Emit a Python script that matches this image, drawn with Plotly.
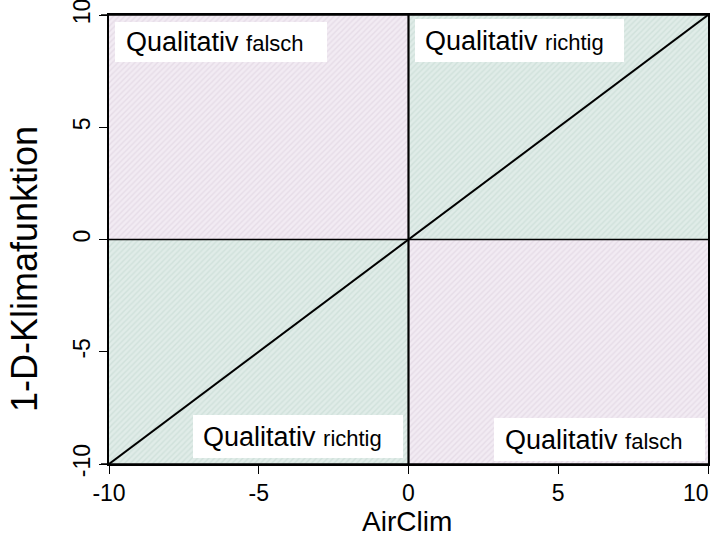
import plotly.graph_objects as go

# ---- data ----
axis_min = -10
axis_max = 10
tick_vals = [-10, -5, 0, 5, 10]
tick_text = ["-10", "-5", "0", "5", "10"]
diag_x = [-10, 10]
diag_y = [-10, 10]
quad_labels = ["Qualitativ falsch", "Qualitativ richtig", "Qualitativ richtig", "Qualitativ falsch"]
quad_names = ["top-left", "top-right", "bottom-left", "bottom-right"]
quad_x = [[-10, 0, 0, -10, -10], [0, 10, 10, 0, 0], [-10, 0, 0, -10, -10], [0, 10, 10, 0, 0]]
quad_y = [[0, 0, 10, 10, 0], [0, 0, 10, 10, 0], [-10, -10, 0, 0, -10], [-10, -10, 0, 0, -10]]
x_title = "AirClim"
y_title = "1-D-Klimafunktion"

PINK_BG, PINK_FG = "#f2ebf3", "#d9cedc"
GREEN_BG, GREEN_FG = "#e0ece8", "#bfd5ce"
quad_colors = [(PINK_BG, PINK_FG), (GREEN_BG, GREEN_FG), (GREEN_BG, GREEN_FG), (PINK_BG, PINK_FG)]

fig = go.Figure()
for qx, qy, (bg, fg), nm in zip(quad_x, quad_y, quad_colors, quad_names):
    fig.add_trace(go.Scatter(
        x=qx, y=qy, mode="none", fill="toself", name=nm,
        fillcolor=bg,
        fillpattern=dict(shape="/", bgcolor=bg, fgcolor=fg, size=4, solidity=0.35),
        hoverinfo="skip", showlegend=False,
    ))

fig.add_trace(go.Scatter(x=diag_x, y=diag_y, mode="lines",
                         line=dict(color="black", width=2), showlegend=False, hoverinfo="skip"))

shapes = [
    dict(type="line", xref="x", yref="y", x0=0, x1=0, y0=axis_min, y1=axis_max,
         line=dict(color="black", width=2.2)),
    dict(type="line", xref="x", yref="y", x0=axis_min, x1=axis_max, y0=0, y1=0,
         line=dict(color="black", width=1.4)),
    # frame lines extending slightly left as in the reference
    dict(type="line", xref="paper", yref="paper", x0=-0.0134, x1=1, y0=1, y1=1,
         line=dict(color="black", width=1.6)),
    dict(type="line", xref="paper", yref="paper", x0=-0.0134, x1=1, y0=0, y1=0,
         line=dict(color="black", width=1.6)),
]

W, H = 711, 546
L, R, T, B = 109, 708, 15, 464

def px2x(p):
    return axis_min + (p - L) / (R - L) * (axis_max - axis_min)

def py2y(p):
    return axis_max - (p - T) / (B - T) * (axis_max - axis_min)

def px2paper(p):
    return (p - L) / (R - L)

def py2paper(p):
    return 1 - (p - T) / (B - T)

boxes = [(115, 327, 22, 62), (415, 624, 19, 62), (193, 403, 415, 458), (494, 705, 418, 461)]
text_pos = [(124, 42), (423, 41), (201, 437), (503, 440)]
for (x0, x1, y0, y1) in boxes:
    shapes.append(dict(type="rect", xref="x", yref="y", x0=px2x(x0), x1=px2x(x1),
                       y0=py2y(y0), y1=py2y(y1), fillcolor="white", line=dict(width=0),
                       layer="above"))

annotations = []
for label, (tx, ty) in zip(quad_labels, text_pos):
    first, second = label.split(" ")
    annotations.append(dict(
        x=px2x(tx), y=py2y(ty), xref="x", yref="y", xanchor="left", yanchor="middle",
        text=f"{first} <span style='font-size:22px'>{second}</span>",
        showarrow=False, font=dict(family="Liberation Sans, Arial", size=27, color="black"),
    ))

# axis titles
annotations.append(dict(x=px2paper(407), y=py2paper(521), xref="paper", yref="paper",
                        xanchor="center", yanchor="middle", text=x_title, showarrow=False,
                        font=dict(family="Liberation Sans, Arial", size=28, color="black")))
annotations.append(dict(x=px2paper(24), y=py2paper(269), xref="paper", yref="paper",
                        xanchor="center", yanchor="middle", text=y_title, showarrow=False,
                        textangle=-90,
                        font=dict(family="Liberation Sans, Arial", size=36, color="black")))

# last x tick label placed flush with the right edge so it is not clipped
x_tick_text = tick_text[:-1] + [""]
annotations.append(dict(x=px2paper(711), y=py2paper(493), xref="paper", yref="paper",
                        xanchor="right", yanchor="middle", text=tick_text[-1], showarrow=False,
                        font=dict(family="Liberation Sans, Arial", size=23, color="black")))

fig.update_layout(
    width=W, height=H,
    margin=dict(l=L, r=W - R, t=T, b=H - B),
    paper_bgcolor="white", plot_bgcolor="white",
    font=dict(family="Liberation Sans, Arial", color="black"),
    shapes=shapes, annotations=annotations,
    xaxis=dict(range=[axis_min, axis_max], tickvals=tick_vals, ticktext=x_tick_text,
               ticks="outside", ticklen=8, tickwidth=1.2, tickcolor="black",
               showline=True, linecolor="black", linewidth=1.6, mirror=True,
               showgrid=False, zeroline=False, tickfont=dict(size=23), automargin=False,
               ticklabeloverflow="allow"),
    yaxis=dict(range=[axis_min, axis_max], tickvals=tick_vals, ticktext=tick_text,
               ticks="outside", ticklen=8, tickwidth=1.2, tickcolor="black", tickangle=-90,
               showline=True, linecolor="black", linewidth=1.6, mirror=True,
               showgrid=False, zeroline=False, tickfont=dict(size=23), automargin=False,
               ticklabeloverflow="allow"),
)

fig.write_html("out.html", config={"displayModeBar": False},
               post_script="document.body.style.margin='0';document.body.style.overflow='hidden';")
